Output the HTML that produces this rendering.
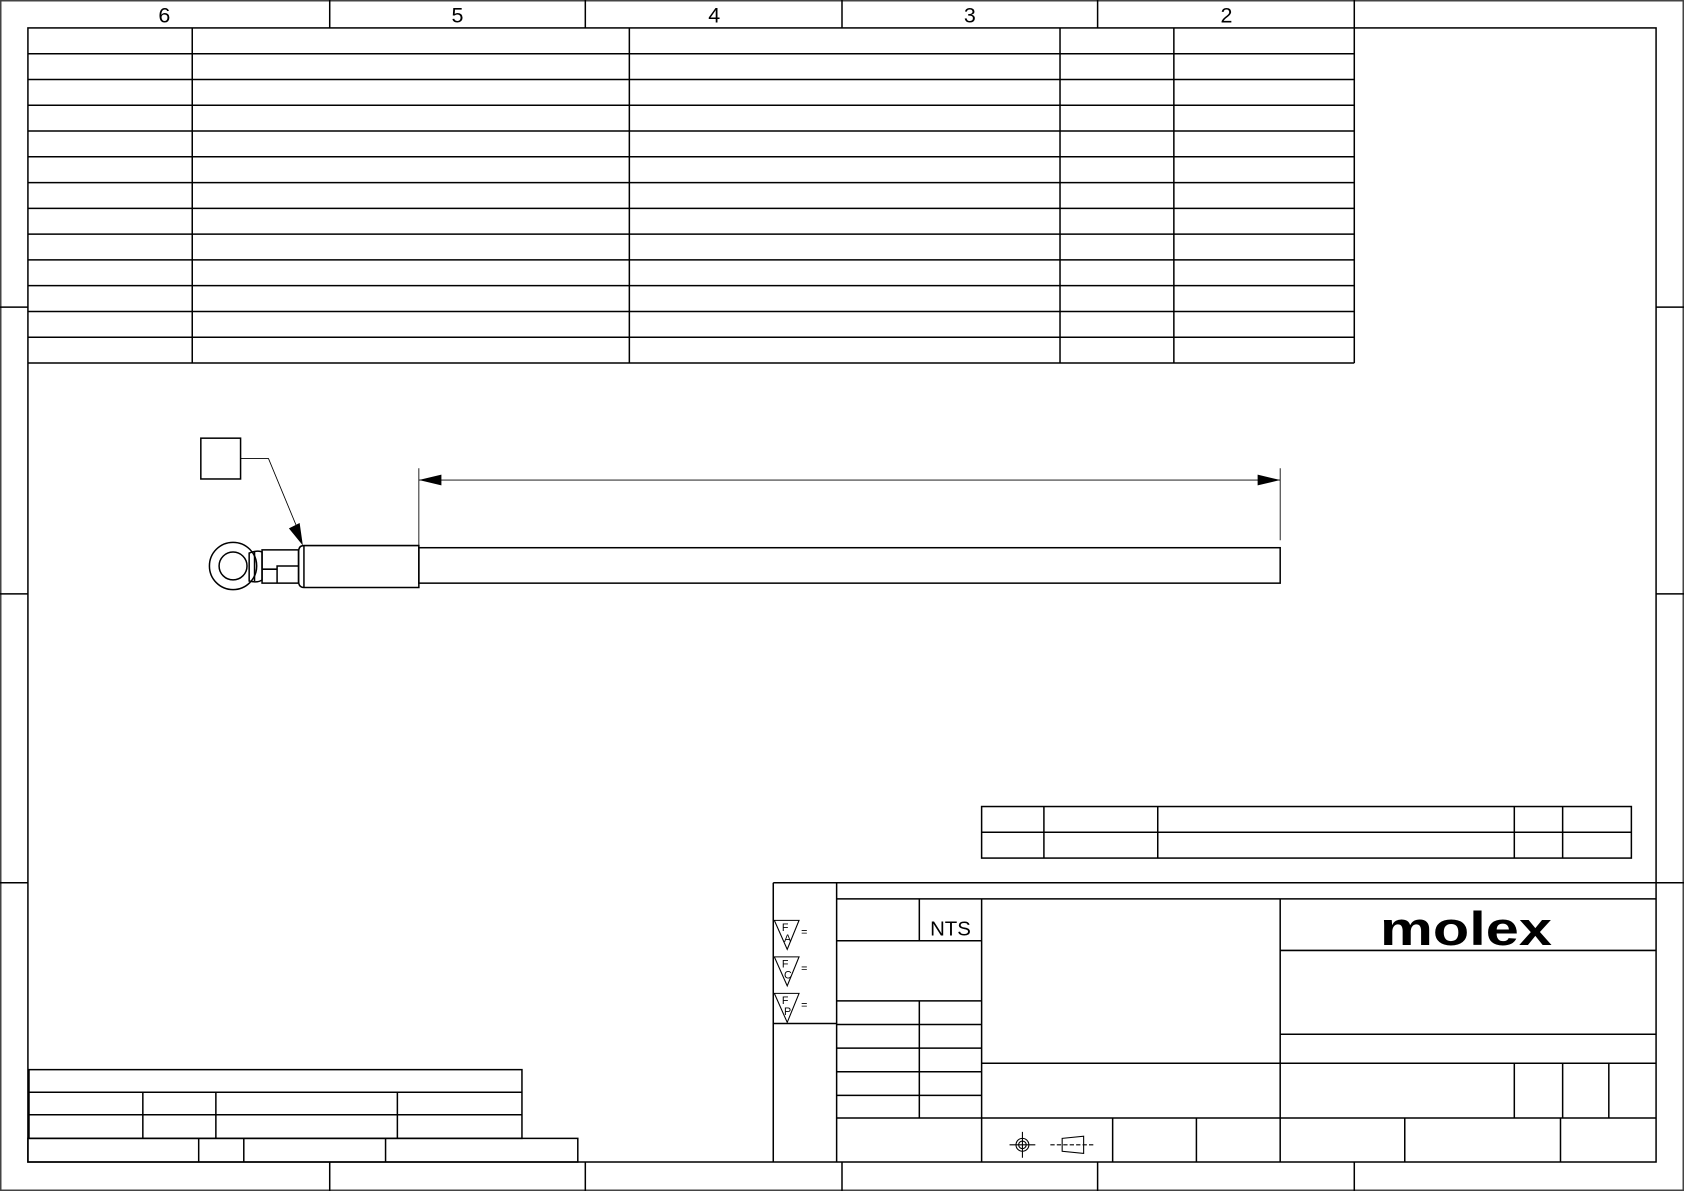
<!DOCTYPE html>
<html><head><meta charset="utf-8"><style>html,body{margin:0;padding:0;background:#fff}svg{display:block}</style></head>
<body>
<svg width="1684" height="1191" viewBox="0 0 1568 1109" preserveAspectRatio="none" xmlns="http://www.w3.org/2000/svg" font-family="Liberation Sans, sans-serif">
<g fill="none" stroke="#000" stroke-width="1.4">
<rect x="0.7" y="0.7" width="1566.6" height="1107.6" stroke="#444"/>
<rect x="26" y="26" width="1516" height="1056"/>
<path d="M307 0V26M545 0V26M784 0V26M1022 0V26M1261 0V26M307 1082V1109M545 1082V1109M784 1082V1109M1022 1082V1109M1261 1082V1109M0 286H26M0 553H26M0 822H26M1542 286H1568M1542 553H1568M1542 822H1568"/>
<path d="M26 50H1261M26 74H1261M26 98H1261M26 122H1261M26 146H1261M26 170H1261M26 194H1261M26 218H1261M26 242H1261M26 266H1261M26 290H1261M26 314H1261M26 338H1261M179 26V338M586 26V338M987 26V338M1093 26V338M1261 26V338"/>
<rect x="187" y="408" width="37" height="38"/>
<path d="M224 427H250L279 497" stroke-width="0.8"/>
<path d="M390 436V510M1192 436V503M390 447H1192" stroke-width="0.8"/>
<rect x="390" y="510" width="802" height="33"/>
<path d="M283 508H390V547H283Q278 547 278 541V514Q278 508 283 508Z"/>
<path d="M283 508V547"/>
<path d="M258 512H278V543H258V527H278M258 512H244V543H258M244 530H258"/>
<path d="M232 515Q240 512 244 514V540Q240 543 232 541Z"/>
<path d="M237 513V541"/>
<circle cx="217" cy="527" r="22"/>
<circle cx="217" cy="527" r="13"/>
<rect x="914" y="751" width="605" height="48"/>
<path d="M914 775H1519M972 751V799M1078 751V799M1410 751V799M1455 751V799"/>
<path d="M720 822V1082M779 822V1082M720 953H779M779 837H1542M779 876H914M779 932H914M779 954H914M779 976H914M779 998H914M779 1020H914M856 837V876M856 932V1041M914 837V1082M1192 837V1082M914 990H1542M779 1041H1542M1036 1041V1082M1114 1041V1082M1192 885H1542M1192 963H1542M1410 990V1041M1455 990V1041M1498 990V1041M1308 1041V1082M1453 1041V1082M720 822H1542"/>
<rect x="27" y="996" width="459" height="64"/>
<path d="M27 1017H486M27 1038H486M133 1017V1060M201 1017V1060M370 1017V1060"/>
<rect x="26" y="1060" width="512" height="22"/>
<path d="M185 1060V1082M227 1060V1082M359 1060V1082"/>
<g stroke-width="1">
<circle cx="952" cy="1066" r="6"/><circle cx="952" cy="1066" r="3.5"/>
<path d="M940 1066H964M952 1054V1078"/>
<path d="M989 1060L1009 1058V1074L989 1072Z"/>
<path d="M978 1066H1018" stroke-dasharray="4 2"/>
<path d="M721 857H744L733 884Z M721 891H744L733 918Z M721 925H744L733 952Z"/>
</g>
</g>
<g fill="#000">
<polygon points="390,447 411,442 411,452"/>
<polygon points="1192,447 1171,442 1171,452"/>
<polygon points="282,508 269,492 279,487"/>
</g>
<g fill="#000" font-size="20" text-anchor="middle">
<text x="153" y="21">6</text><text x="426" y="21">5</text><text x="665" y="21">4</text><text x="903" y="21">3</text><text x="1142" y="21">2</text>
</g>
<text x="885" y="871" font-size="19" text-anchor="middle">NTS</text>
<g font-size="10">
<text x="728" y="867">F</text><text x="730" y="877">A</text><text x="746" y="871">=</text>
<text x="728" y="901">F</text><text x="730" y="911">C</text><text x="746" y="905">=</text>
<text x="728" y="935">F</text><text x="730" y="945">P</text><text x="746" y="939">=</text>
</g>
<text x="1285" y="880" font-size="44" font-weight="bold" textLength="160" lengthAdjust="spacingAndGlyphs">molex</text>
</svg>
</body></html>
